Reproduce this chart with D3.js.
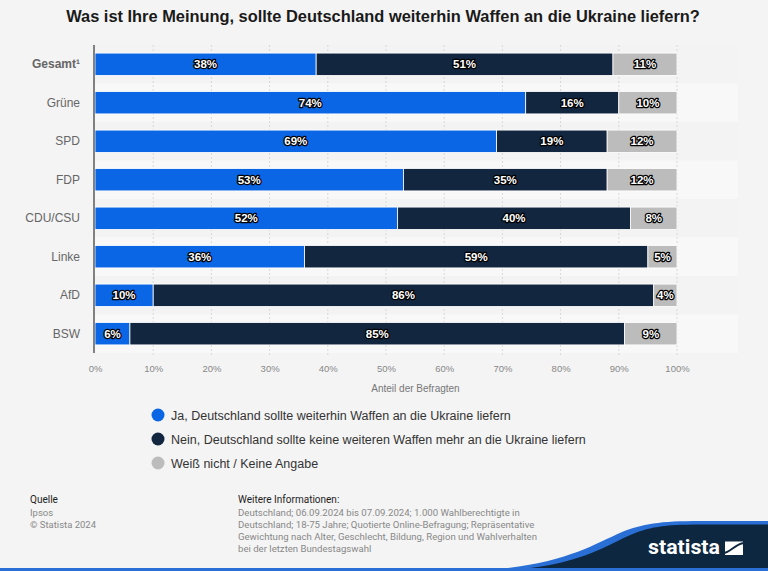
<!DOCTYPE html>
<html><head><meta charset="utf-8">
<script src="https://cdn.jsdelivr.net/npm/d3@7"></script>
<style>
html,body{margin:0;padding:0;background:#f4f4f4;}
svg{display:block;font-family:"Liberation Sans",Arial,sans-serif;}
</style></head>
<body><svg id="c" width="768" height="571"></svg>
<script>
const categories = ["Gesamt¹","Grüne","SPD","FDP","CDU/CSU","Linke","AfD","BSW"];
const ja = [38,74,69,53,52,36,10,6];
const nein = [51,16,19,35,40,59,86,85];
const weissNicht = [11,10,12,12,8,5,4,9];
const seriesNames = ["Ja, Deutschland sollte weiterhin Waffen an die Ukraine liefern","Nein, Deutschland sollte keine weiteren Waffen mehr an die Ukraine liefern","Weiß nicht / Keine Angabe"];
const colors = ["#0a66e4","#12263f","#bcbcbc"];
const xTicks = [0,10,20,30,40,50,60,70,80,90,100];
const title = "Was ist Ihre Meinung, sollte Deutschland weiterhin Waffen an die Ukraine liefern?";

const svg = d3.select("#c");
svg.append("rect").attr("width",768).attr("height",571).attr("fill","#f4f4f4");

const x = d3.scaleLinear().domain([0,100]).range([95,677]);
const y = d3.scaleBand().domain(categories).range([45,353]).paddingInner(0.42).paddingOuter(0.21);
const band = d3.scaleBand().domain(categories).range([45,353]);

// row bands
svg.append("g").selectAll("rect").data(categories).join("rect")
  .attr("x",94).attr("width",738-94)
  .attr("y",d=>band(d)).attr("height",band.bandwidth())
  .attr("fill",(d,i)=> i%2===0 ? "#f3f3f3" : "#f8f8f8");

// title
svg.append("text").attr("x",383).attr("y",22).attr("text-anchor","middle")
  .attr("font-size",16.4).attr("font-weight","bold").attr("fill","#1a1a1a").text(title);

// grid
svg.append("g").selectAll("line").data(xTicks.slice(1)).join("line")
  .attr("x1",d=>x(d)).attr("x2",d=>x(d)).attr("y1",45).attr("y2",357)
  .attr("stroke","#d8d8d8").attr("stroke-dasharray","2,2").attr("stroke-width",1);

// stacked data
const rows = categories.map((c,i)=>({cat:c, vals:[ja[i],nein[i],weissNicht[i]]}));
const segs = [];
rows.forEach(r=>{let acc=0; r.vals.forEach((v,k)=>{segs.push({cat:r.cat,k,v,x0:acc,x1:acc+v}); acc+=v;});});

svg.append("g").selectAll("rect").data(segs).join("rect")
  .attr("x",d=>x(d.x0)).attr("width",d=>x(d.x1)-x(d.x0))
  .attr("y",d=>y(d.cat)).attr("height",y.bandwidth())
  .attr("fill",d=>colors[d.k]).attr("stroke","#ffffff").attr("stroke-width",0.8);

// labels
const lab = svg.append("g").attr("font-size",11.5).attr("font-weight","bold").attr("text-anchor","middle");
lab.selectAll("text.o").data(segs).join("text").attr("class","o")
  .attr("x",d=>(x(d.x0)+x(d.x1))/2).attr("y",d=>y(d.cat)+y.bandwidth()/2+4)
  .attr("stroke","#000").attr("stroke-width",2.5).attr("stroke-linejoin","round").attr("fill","#000")
  .text(d=>d.v+"%");
lab.selectAll("text.i").data(segs).join("text").attr("class","i")
  .attr("x",d=>(x(d.x0)+x(d.x1))/2).attr("y",d=>y(d.cat)+y.bandwidth()/2+4)
  .attr("fill","#fff").text(d=>d.v+"%");

// y axis
const ya = svg.append("g").attr("transform","translate(94,0)")
  .call(d3.axisLeft(y).tickSize(0).tickPadding(14));
ya.select(".domain").attr("stroke","#333").attr("stroke-width",1.2).attr("d","M0,45V353");
ya.selectAll("text").attr("font-size",12).attr("fill","#666")
  .attr("font-family","'Liberation Sans',Arial,sans-serif")
  .attr("font-weight",d=>d==="Gesamt¹"?"bold":"normal");

// x axis
const xa = svg.append("g").attr("transform","translate(0,353)")
  .call(d3.axisBottom(x).tickValues(xTicks).tickFormat(d=>d+"%").tickSize(0).tickPadding(12));
xa.select(".domain").remove();
xa.selectAll("text").attr("font-size",9.5).attr("fill","#888")
  .attr("font-family","'Liberation Sans',Arial,sans-serif");

svg.append("text").attr("x",415.5).attr("y",392).attr("text-anchor","middle")
  .attr("font-size",10).attr("fill","#777").text("Anteil der Befragten");

// legend
const lg = svg.append("g");
seriesNames.forEach((s,i)=>{
  lg.append("circle").attr("cx",158).attr("cy",415+i*24).attr("r",6.5).attr("fill",colors[i]);
  lg.append("text").attr("x",171).attr("y",419.5+i*24).attr("font-size",12.5).attr("fill","#333").text(s);
});

// footer
const ff = "Roboto, 'Liberation Sans', sans-serif";
const f = svg.append("g").attr("font-family",ff);
f.append("text").attr("x",30).attr("y",503).attr("font-size",10).attr("fill","#222").text("Quelle");
f.append("text").attr("x",30).attr("y",515.5).attr("font-size",9.5).attr("fill","#888").text("Ipsos");
f.append("text").attr("x",30).attr("y",528).attr("font-size",9.5).attr("fill","#888").text("© Statista 2024");
f.append("text").attr("x",238).attr("y",503).attr("font-size",10).attr("fill","#222").text("Weitere Informationen:");
["Deutschland; 06.09.2024 bis 07.09.2024; 1.000 Wahlberechtigte in",
 "Deutschland; 18-75 Jahre; Quotierte Online-Befragung; Repräsentative",
 "Gewichtung nach Alter, Geschlecht, Bildung, Region und Wahlverhalten",
 "bei der letzten Bundestagswahl"].forEach((t,i)=>{
  f.append("text").attr("x",238).attr("y",515.5+i*12.3).attr("font-size",9.6).attr("fill","#888").text(t);
});

// logo
const lgG = svg.append("g");
lgG.append("path").attr("fill","#2a6fd6")
  .attr("d","M470,571 C560,567 590,546 622,532 C642,524 660,521 700,521 L768,521 L768,571 Z");
lgG.append("path").attr("fill","#0e2740")
  .attr("d","M495,571 C575,567 600,549 628,536 C648,527 664,524.5 700,524.5 L768,524.5 L768,571 Z");
lgG.append("rect").attr("x",0).attr("y",568).attr("width",768).attr("height",3).attr("fill","#2a6fd6");
lgG.append("text").attr("x",648).attr("y",554).attr("font-family","Roboto, 'Liberation Sans', sans-serif")
  .attr("font-size",20).attr("font-weight","bold").attr("fill","#fff")
  .attr("textLength",72).attr("lengthAdjust","spacingAndGlyphs").text("statista");
lgG.append("rect").attr("x",725).attr("y",541.5).attr("width",18).attr("height",13.5).attr("fill","#fff");
lgG.append("path").attr("fill","none").attr("stroke","#0e2740").attr("stroke-width",2)
  .attr("d","M724,553 C731,552 735,544 744,543");
</script></body></html>
